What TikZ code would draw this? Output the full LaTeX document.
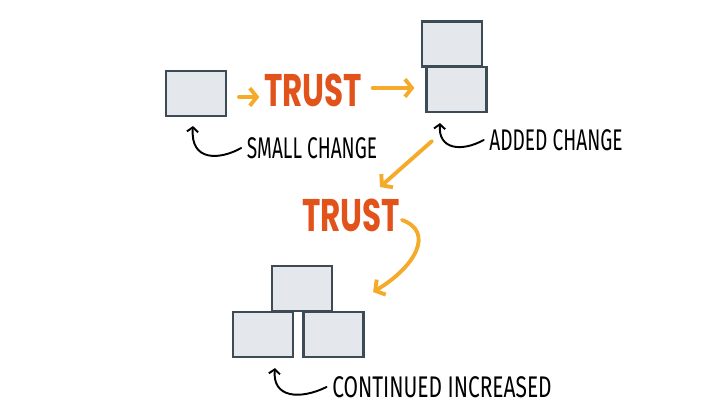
\documentclass[tikz,border=0pt]{standalone}
\usepackage{fontspec}
\setsansfont{Fira Sans}
\newfontfamily\trustfont{Poppins}
\usetikzlibrary{arrows.meta}
\usepackage{graphicx}
\definecolor{boxfill}{HTML}{E4E7EB}
\definecolor{boxline}{HTML}{3D4B57}
\definecolor{trustred}{HTML}{E2531B}
\definecolor{flowor}{HTML}{F5AA2A}

\begin{document}
\begin{tikzpicture}[
  block/.style={draw=boxline,fill=boxfill,line width=0.6pt,minimum width=0.6cm,minimum height=0.45cm,inner sep=0pt},
  trust/.style={text=trustred,font=\trustfont\bfseries\fontsize{13}{13}\selectfont,inner sep=0pt},
  flow/.style={draw=flowor,line width=1.1pt,line cap=round,-{Straight Barb[length=2pt,width=5pt]}},
  note/.style={line width=0.55pt,line cap=round,-{Straight Barb[length=1.3pt,width=3.2pt]}},
  label/.style={font=\sffamily\fontsize{8.5}{8.5}\selectfont,inner sep=0pt}
]
\useasboundingbox (0,0) rectangle (7.14,4.02);

% --- small change ---
\node[block] (small) at (1.96,3.085) {};
\node[trust] (trustA) at (3.13,3.12) {\scalebox{0.68}[1]{TRUST}};

% --- added change ---
\node[block] (addtop) at (4.52,3.58) {};
\node[block] (addbot) at (4.565,3.125) {};

% --- second trust ---
\node[trust] (trustB) at (3.51,1.87) {\scalebox{0.68}[1]{TRUST}};

% --- pyramid ---
\node[block] (ptop) at (3.02,1.135) {};
\node[block] (pleft) at (2.63,0.675) {};
\node[block] (pright) at (3.335,0.675) {};

% --- labels ---
\node[label] (labA) at (3.12,2.54) {\scalebox{0.64}[1]{SMALL CHANGE}};
\node[label] (labB) at (5.56,2.62) {\scalebox{0.64}[1]{ADDED CHANGE}};
\node[label] (labC) at (4.42,0.15) {\scalebox{0.7}[1]{CONTINUED INCREASED}};

% --- orange arrows ---
\draw[flow,shorten <=0.12cm,shorten >=0.04cm] (small.east |- 0,3.05) -- (trustA.west |- 0,3.05);
\draw[flow,shorten <=0.1cm,shorten >=0.11cm] (trustA.east |- 0,3.14) -- (addbot.west |- 0,3.14);
\draw[flow] ([shift={(-0.245,-0.28)}]addbot.south) -- ([shift={(0.29,0.28)}]trustB.center);
\draw[flow] ([shift={(0.51,-0.05)}]trustB.center) .. controls (4.35,1.7) and (4.15,1.35) .. ([shift={(0.40,-0.035)}]ptop.east);

% --- black pointers ---
\draw[note] ([xshift=-0.05cm]labA.west) .. controls (2.2,2.42) and (1.9,2.40) .. ([shift={(-0.03,-0.09)}]small.south);
\draw[note] ([xshift=-0.05cm]labB.west) .. controls (4.62,2.50) and (4.38,2.52) .. ([shift={(-0.165,-0.10)}]addbot.south);
\draw[note] ([xshift=-0.05cm]labC.west) .. controls (3.0,0.02) and (2.72,0.04) .. ([shift={(0.12,-0.10)}]pleft.south);
\end{tikzpicture}
\end{document}
